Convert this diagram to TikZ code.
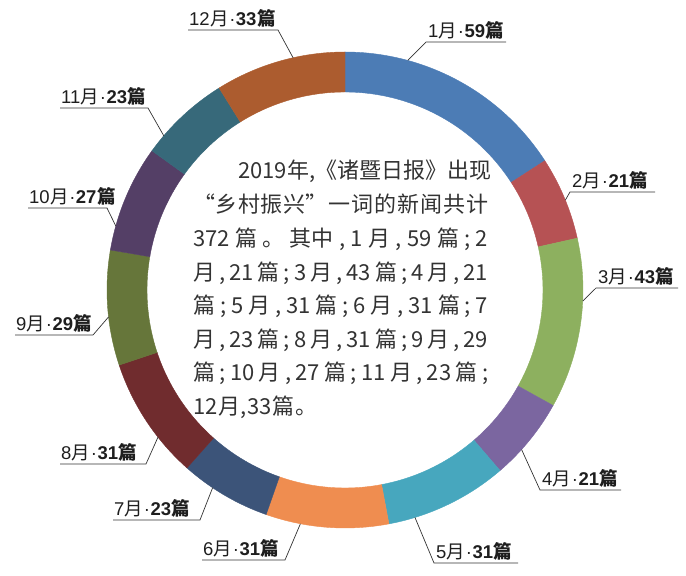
\documentclass[tikz,border=0pt]{standalone}
\usepackage{fontspec}
\setmainfont{Liberation Sans}
\newfontfamily\cjk{Noto Sans CJK SC}
\definecolor{c1}{HTML}{4C7CB5}
\definecolor{c2}{HTML}{B65254}
\definecolor{c3}{HTML}{8DB05F}
\definecolor{c4}{HTML}{7B66A0}
\definecolor{c5}{HTML}{47A7BE}
\definecolor{c6}{HTML}{EF8D50}
\definecolor{c7}{HTML}{3C5479}
\definecolor{c8}{HTML}{702C2E}
\definecolor{c9}{HTML}{66763A}
\definecolor{c10}{HTML}{543F66}
\definecolor{c11}{HTML}{37697A}
\definecolor{c12}{HTML}{AC5C2F}
\definecolor{ink}{HTML}{1E1E1E}
\definecolor{bodyink}{HTML}{333333}
\newcommand\g{\hfil}
\newcommand\mlab[2]{#1\hspace{0.5pt}{\cjk 月}\hspace{0.5pt}·\hspace{0.5pt}\textbf{#2\hspace{0.5pt}{\cjk 篇}}}
\tikzset{
  seg/.style={line width=0.4pt},
  leader/.style={draw=black!80, line width=0.7pt},
  lbl/.style={font=\fontsize{18.5}{19}\selectfont, text=ink, inner sep=0pt, anchor=south west},
  body/.style={font=\cjk\fontsize{22}{34}\selectfont, text=bodyink, inner sep=0pt, anchor=base west},
}
\begin{document}
\begin{tikzpicture}[x=1pt,y=1pt]
\useasboundingbox (0,0) rectangle (686,576);
\coordinate (C) at (345,286);
% ring segments
\foreach \a/\b/\col in {90/32.903/c1, 32.903/12.581/c2, 12.581/-29.032/c3, -29.032/-49.355/c4,
  -49.355/-79.355/c5, -79.355/-109.355/c6, -109.355/-131.613/c7, -131.613/-161.613/c8,
  -161.613/-189.677/c9, -189.677/-215.806/c10, -215.806/-238.065/c11, -238.065/-270/c12}{
  \filldraw[fill=\col, draw=\col, seg, shift={(C)}] (\a:238) arc[start angle=\a, end angle=\b, radius=238]
    -- (\b:198) arc[start angle=\b, end angle=\a, radius=198] -- cycle;
}
% labels on the right: leader at left end of underline
\foreach \i/\m/\n/\xa/\xb/\Y/\ang in {1/1/59/426/506/534/74.7, 2/2/21/570/655/384/22.2,
  3/3/43/596/678/288/-2.7, 4/4/21/540/621/86/-42.1, 5/5/31/434/518/13/-72.9}{
  \coordinate (u\i a) at (\xa,\Y);
  \coordinate (u\i b) at (\xb,\Y);
  \path (C) ++(\ang:238) coordinate (r\i);
  \node[lbl] (L\i) at ([shift={(2,2)}]u\i a) {\mlab{\m}{\n}};
  \draw[leader] (u\i b) -- (u\i a) -- (r\i);
}
% labels on the left: leader at right end of underline
\foreach \i/\m/\n/\xa/\xb/\Y/\ang in {6/6/31/202/285/16/-100.8, 7/7/23/113/200/56/-123.8,
  8/8/31/60/146/112/-141.8, 9/9/29/15/93/241/-173.5, 10/10/27/28/107/368/164.4,
  11/11/23/60/148/468/139.6, 12/12/33/188/278/546/102.6}{
  \coordinate (u\i a) at (\xa,\Y);
  \coordinate (u\i b) at (\xb,\Y);
  \path (C) ++(\ang:238) coordinate (r\i);
  \node[lbl] (L\i) at ([shift={(1,2)}]u\i a) {\mlab{\m}{\n}};
  \draw[leader] (u\i a) -- (u\i b) -- (r\i);
}
% central text
\node[body] (t1) at (238,397) {\makebox[250pt][s]{2019\g 年\g ,\g 《诸暨日报》\g 出现}};
\node[body] (t2) at (193,363) {\makebox[295pt][s]{“乡\g 村\g 振\g 兴”\g 一\g 词\g 的\g 新\g 闻\g 共\g 计}};
\node[body] (t3) at (193,329) {\makebox[295pt][s]{372\g 篇\g 。\g 其中\g ,\g 1\g 月\g ,\g 59\g 篇\g ;\g 2}};
\node[body] (t4) at (193,295) {\makebox[295pt][s]{月\g ,\g 21\g 篇\g ;\g 3\g 月\g ,\g 43\g 篇\g ;\g 4\g 月\g ,\g 21}};
\node[body] (t5) at (193,262) {\makebox[295pt][s]{篇\g ;\g 5\g 月\g ,\g 31\g 篇\g ;\g 6\g 月\g ,\g 31\g 篇\g ;\g 7}};
\node[body] (t6) at (193,228) {\makebox[295pt][s]{月\g ,\g 23\g 篇\g ;\g 8\g 月\g ,\g 31\g 篇\g ;\g 9\g 月\g ,\g 29}};
\node[body] (t7) at (193,195) {\makebox[295pt][s]{篇\g ;\g 10\g 月\g ,\g 27\g 篇\g ;\g 11\g 月\g ,\g 23\g 篇\g ;}};
\node[body] (t8) at (193,161) {\makebox[124pt][s]{12\g 月\g ,\g 33\g 篇\g 。}};
\end{tikzpicture}
\end{document}
